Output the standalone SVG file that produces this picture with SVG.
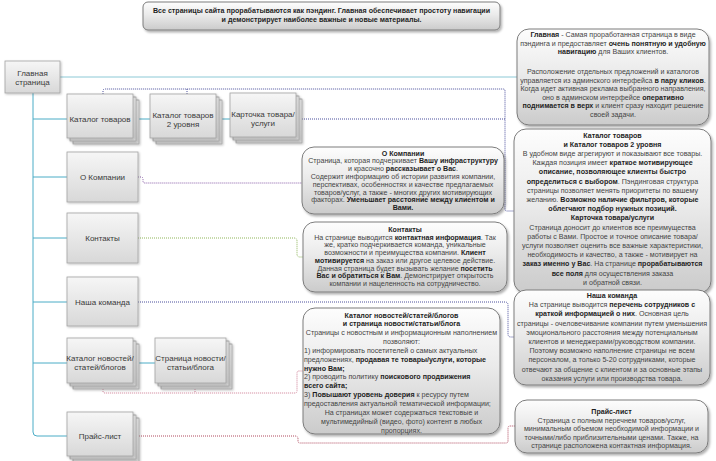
<svg xmlns="http://www.w3.org/2000/svg" width="716" height="461" viewBox="0 0 716 461">
<defs>
<linearGradient id="gBox" x1="0" y1="0" x2="0" y2="1"><stop offset="0" stop-color="#f6f6f6"/><stop offset="1" stop-color="#d8d8d8"/></linearGradient>
<linearGradient id="gNote" x1="0" y1="0" x2="0" y2="1"><stop offset="0" stop-color="#fdfdfd"/><stop offset="0.45" stop-color="#ebebeb"/><stop offset="1" stop-color="#cbcbcb"/></linearGradient>
<filter id="sh" x="-10%" y="-10%" width="125%" height="130%"><feDropShadow dx="1.5" dy="2" stdDeviation="1.2" flood-color="#000" flood-opacity="0.3"/></filter>
<filter id="shb" x="-10%" y="-10%" width="125%" height="130%"><feDropShadow dx="1" dy="1" stdDeviation="0.8" flood-color="#000" flood-opacity="0.25"/></filter>
</defs>
<style>
.box{fill:url(#gBox);stroke:#a3a3a3;stroke-width:0.8;filter:url(#shb)}
.note{fill:url(#gNote);stroke:#7c7c7c;stroke-width:1;filter:url(#sh)}
.bt{font-family:"Liberation Sans",Arial,sans-serif;font-size:8px;fill:#3a3a3a;text-anchor:middle}
.nt{font-family:"Liberation Sans",Arial,sans-serif;font-size:7.1px;fill:#444;text-anchor:middle}
.nl{text-anchor:start}
.b{font-weight:bold;fill:#1e1e1e}
.tree{fill:none;stroke:#4bacc6;stroke-width:1}
.dot{fill:none;stroke-width:1;stroke-dasharray:1 1}
</style>

<g id="banner">
<rect x="143" y="2" width="357" height="28" rx="5" class="note"/>
<text class="nt b" x="321.5" y="12.5" font-size="7.6">Все страницы сайта прорабатываются как пэндинг. Главная обеспечивает простоту навигации</text>
<text class="nt b" x="321.5" y="21.5" font-size="7.6">и демонстрирует наиболее важные и новые материалы.</text>
</g>

<g id="connectors">
<path class="tree" d="M33,93 V432 Q33,436 37,436 H67"/>
<path class="tree" d="M33,119 H67 M33,177 H67 M33,238 H67 M33,302 H67 M33,363 H67"/>
<path class="tree" d="M133,119 H150 M216,119 H230 M133,363 H155"/>
<path fill="none" stroke="#8cc9d6" stroke-width="1" d="M60,77 H517"/>
<path class="dot" stroke="#4a4f9c" d="M103,94 V91 Q103,89 105,89 H503 Q505,89 505,91 V209 Q505,211 507,211 H514 M187,94 V89 M296,119 H505"/>
<path class="dot" stroke="#8a5fa8" d="M138,177 H141 Q143,177 143,179 V181 Q143,183 145,183 H302"/>
<path class="dot" stroke="#8fb65a" d="M138,238 H294 Q297,238 297,241 V254 Q297,257 300,257 H303"/>
<path class="dot" stroke="#4a4f9c" d="M138,302 H505 Q508,302 508,305 V334 Q508,337 511,337 H514"/>
<path class="dot" stroke="#cf7f96" d="M103,389 V391 Q103,393 105,393 H295 Q297,393 297,391 V373 Q297,371 299,371 H303 M195,389 V393"/>
<path class="dot" stroke="#b04a5e" d="M139,436 H295 Q298,436 298,439 V441 Q298,443 300,443 H506 Q508,443 508,441 V428 Q508,426 510,426 H515"/>
</g>

<g id="n-main">
<rect x="5" y="61" width="55" height="32" class="box"/>
<text class="bt" x="32.5" y="75.5">Главная</text>
<text class="bt" x="32.5" y="84.5">страница</text>
</g>
<g id="n-catalog">
<rect x="73" y="100" width="66" height="44" class="box"/>
<rect x="70" y="97" width="66" height="44" class="box"/>
<rect x="67" y="94" width="66" height="44" class="box"/>
<text class="bt" x="100" y="122">Каталог товаров</text>
</g>
<g id="n-catalog2">
<rect x="156" y="100" width="66" height="44" class="box"/>
<rect x="153" y="97" width="66" height="44" class="box"/>
<rect x="150" y="94" width="66" height="44" class="box"/>
<text class="bt" x="183" y="117.5">Каталог товаров</text>
<text class="bt" x="183" y="126.5">2 уровня</text>
</g>
<g id="n-card">
<rect x="236" y="99" width="66" height="44" class="box"/>
<rect x="233" y="96" width="66" height="44" class="box"/>
<rect x="230" y="93" width="66" height="44" class="box"/>
<text class="bt" x="263" y="116.5">Карточка товара/</text>
<text class="bt" x="263" y="125.5">услуги</text>
</g>
<g id="n-about">
<rect x="67" y="152" width="71" height="50" class="box"/>
<text class="bt" x="102.5" y="180">О Компании</text>
</g>
<g id="n-contacts">
<rect x="67" y="213" width="71" height="50" class="box"/>
<text class="bt" x="102.5" y="241">Контакты</text>
</g>
<g id="n-team">
<rect x="67" y="277" width="71" height="49" class="box"/>
<text class="bt" x="102.5" y="305">Наша команда</text>
</g>
<g id="n-news">
<rect x="73" y="344" width="66" height="45" class="box"/>
<rect x="70" y="341" width="66" height="45" class="box"/>
<rect x="67" y="338" width="66" height="45" class="box"/>
<text class="bt" x="100" y="361">Каталог новостей/</text>
<text class="bt" x="100" y="370">статей/блогов</text>
</g>
<g id="n-newspage">
<rect x="161" y="344" width="71" height="45" class="box"/>
<rect x="158" y="341" width="71" height="45" class="box"/>
<rect x="155" y="338" width="71" height="45" class="box"/>
<text class="bt" x="190.5" y="361">Страница новости/</text>
<text class="bt" x="190.5" y="370">статьи/блога</text>
</g>
<g id="n-price">
<rect x="73" y="418" width="66" height="44" class="box"/>
<rect x="70" y="415" width="66" height="44" class="box"/>
<rect x="67" y="412" width="66" height="44" class="box"/>
<text class="bt" x="100" y="439">Прайс-лист</text>
</g>

<g id="note-main">
<rect x="517" y="29" width="192" height="96" rx="12" class="note"/>
<text class="nt" x="613" y="37"><tspan class="b">Главная</tspan> - Самая проработанная страница в виде</text>
<text class="nt" x="613" y="45.5">пэндинга и предоставляет <tspan class="b">очень понятную и удобную</tspan></text>
<text class="nt" x="613" y="54"><tspan class="b">навигацию</tspan> для Ваших клиентов.</text>
<text class="nt" x="613" y="74">Расположение отдельных предложений и каталогов</text>
<text class="nt" x="613" y="82.5">управляется из админского интерфейса <tspan class="b">в пару кликов</tspan>.</text>
<text class="nt" x="613" y="91">Когда идет активная реклама выбранного направления,</text>
<text class="nt" x="613" y="99.5">оно в админском интерфейсе <tspan class="b">оперативно</tspan></text>
<text class="nt" x="613" y="108"><tspan class="b">поднимается в верх</tspan> и клиент сразу находит решение</text>
<text class="nt" x="613" y="116.5">своей задачи.</text>
</g>

<g id="note-catalog">
<rect x="514" y="129" width="197" height="164" rx="12" class="note"/>
<text class="nt b" x="612.5" y="137.5">Каталог товаров</text>
<text class="nt b" x="612.5" y="146.7">и Каталог товаров 2 уровня</text>
<text class="nt" x="612.5" y="155.9">В удобном виде агрегируют и показывают все товары.</text>
<text class="nt" x="612.5" y="165.1">Каждая позиция имеет <tspan class="b">краткое мотивирующее</tspan></text>
<text class="nt b" x="612.5" y="174.3">описание, позволяющее клиенты быстро</text>
<text class="nt" x="612.5" y="183.5"><tspan class="b">определиться с выбором</tspan>. Пэндинговая структура</text>
<text class="nt" x="612.5" y="192.7">страницы позволяет менять приоритеты по вашему</text>
<text class="nt" x="612.5" y="201.9">желанию. <tspan class="b">Возможно наличие фильтров, которые</tspan></text>
<text class="nt b" x="612.5" y="211.1">облегчают подбор нужных позиций.</text>
<text class="nt b" x="612.5" y="220.3">Карточка товара/услуги</text>
<text class="nt" x="612.5" y="229.5">Страница доносит до клиентов все преимущества</text>
<text class="nt" x="612.5" y="238.7">работы с Вами. Простое и точное описание товара/</text>
<text class="nt" x="612.5" y="247.9">услуги позволяет оценить все важные характеристики,</text>
<text class="nt" x="612.5" y="257.1">необходимость и качество, а также - мотивирует на</text>
<text class="nt" x="612.5" y="266.3"><tspan class="b">заказ именно у Вас</tspan>. На странице <tspan class="b">прорабатываются</tspan></text>
<text class="nt" x="612.5" y="275.5"><tspan class="b">все поля</tspan> для осуществления заказа</text>
<text class="nt" x="612.5" y="284.7">и обратной связи.</text>
</g>

<g id="note-about">
<rect x="302" y="147" width="202" height="67" rx="12" class="note"/>
<text class="nt b" x="403" y="155.5">О Компании</text>
<text class="nt" x="403" y="163.3">Страница, которая подчеркивает <tspan class="b">Вашу инфраструктуру</tspan></text>
<text class="nt" x="403" y="171.1">и красочно <tspan class="b">рассказывает о Вас</tspan>.</text>
<text class="nt" x="403" y="178.9">Содержит информацию об истории развития компании,</text>
<text class="nt" x="403" y="186.7">перспективах, особенностях и качестве предлагаемых</text>
<text class="nt" x="403" y="194.5">товаров/услуг, а также - многих других мотивирующих</text>
<text class="nt" x="403" y="202.3">факторах. <tspan class="b">Уменьшает расстояние между клиентом и</tspan></text>
<text class="nt b" x="403" y="210.1">Вами.</text>
</g>

<g id="note-contacts">
<rect x="303" y="222" width="204" height="70" rx="12" class="note"/>
<text class="nt b" x="405" y="232">Контакты</text>
<text class="nt" x="405" y="239.7">На странице выводится <tspan class="b">контактная информация</tspan>. Так</text>
<text class="nt" x="405" y="247.4">же, кратко подчеркивается команда, уникальные</text>
<text class="nt" x="405" y="255.1">возможности и преимущества компании. <tspan class="b">Клиент</tspan></text>
<text class="nt" x="405" y="262.8"><tspan class="b">мотивируется</tspan> на заказ или другое целевое действие.</text>
<text class="nt" x="405" y="270.5">Данная страница будет вызывать желание <tspan class="b">посетить</tspan></text>
<text class="nt" x="405" y="278.2"><tspan class="b">Вас и обратиться к Вам</tspan>. Демонстрирует открытость</text>
<text class="nt" x="405" y="285.9">компании и нацеленность на сотрудничество.</text>
</g>

<g id="note-team">
<rect x="514" y="290" width="196" height="95" rx="12" class="note"/>
<text class="nt b" x="612" y="298">Наша команда</text>
<text class="nt" x="612" y="307.2">На странице выводится <tspan class="b">перечень сотрудников с</tspan></text>
<text class="nt" x="612" y="316.4"><tspan class="b">краткой информацией о них</tspan>. Основная цель</text>
<text class="nt" x="612" y="325.6">страницы - очеловечивание компании путем уменьшения</text>
<text class="nt" x="612" y="334.8">эмоционального расстояния между потенциальным</text>
<text class="nt" x="612" y="344">клиентов и менеджерами/руководством компании.</text>
<text class="nt" x="612" y="353.2">Поэтому возможно наполнение страницы не всем</text>
<text class="nt" x="612" y="362.4">персоналом, а только 5-20 сотрудниками, которые</text>
<text class="nt" x="612" y="371.6">отвечают за общение с клиентом и за основные этапы</text>
<text class="nt" x="612" y="380.8">оказания услуги или производства товара.</text>
</g>

<g id="note-news">
<rect x="303" y="308" width="197" height="126" rx="12" class="note"/>
<text class="nt b" x="401.5" y="317.5">Каталог новостей/статей/блогов</text>
<text class="nt b" x="401.5" y="326.3">и страница новости/статьи/блога</text>
<text class="nt" x="401.5" y="335.2">Страницы с новостным и информационным наполнением</text>
<text class="nt" x="401.5" y="344">позволяют:</text>
<text class="nt nl" x="304" y="352.9">1) информировать посетителей о самых актуальных</text>
<text class="nt nl" x="304" y="361.7">предложениях, <tspan class="b">продавая те товары/услуги, которые</tspan></text>
<text class="nt nl b" x="304" y="370.6">нужно Вам;</text>
<text class="nt nl" x="304" y="379.4">2) проводить политику <tspan class="b">поискового продвижения</tspan></text>
<text class="nt nl b" x="304" y="388.3">всего сайта;</text>
<text class="nt nl" x="304" y="397.1">3) <tspan class="b">Повышают уровень доверия</tspan> к ресурсу путем</text>
<text class="nt nl" x="304" y="406">предоставления актуальной тематической информации;</text>
<text class="nt" x="401.5" y="414.8">На страницах может содержаться текстовые и</text>
<text class="nt" x="401.5" y="423.7">мультимедийный (видео, фото) контент в любых</text>
<text class="nt" x="401.5" y="432.5">пропорциях.</text>
</g>

<g id="note-price">
<rect x="515" y="400" width="193" height="53" rx="12" class="note"/>
<text class="nt b" x="611.5" y="414">Прайс-лист</text>
<text class="nt" x="611.5" y="422.5">Страница с полным перечнем товаров/услуг,</text>
<text class="nt" x="611.5" y="431">минимальным объемом необходимой информации и</text>
<text class="nt" x="611.5" y="439.5">точными/либо приблизительными ценами. Также, на</text>
<text class="nt" x="611.5" y="448">странице расположена контактная информация.</text>
</g>
</svg>
